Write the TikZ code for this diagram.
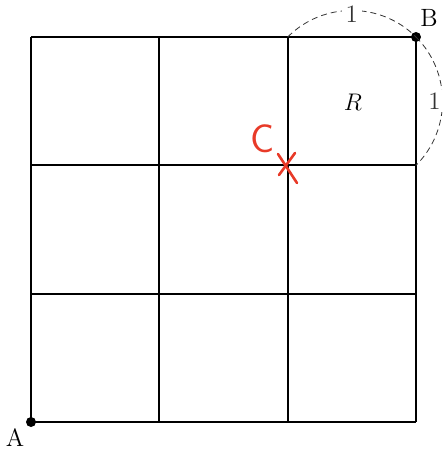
\documentclass[tikz,border=0pt]{standalone}
\definecolor{penred}{RGB}{232,58,40}
\tikzset{
  grid/.style={line width=1pt,black},
  arcl/.style={densely dashed,line width=0.4pt,black!80},
  dot/.style={circle,fill=black,inner sep=0pt,minimum size=5pt},
  lab/.style={font=\fontsize{12.5}{15}\selectfont,inner sep=1pt},
  redline/.style={draw=penred,line width=1.3pt,line cap=round},
}
\begin{document}
\begin{tikzpicture}[x=0.5pt,y=-0.5pt]
\useasboundingbox (0,0) rectangle (445,451);
% grid coordinates
\foreach \i/\x in {0/31,1/159.33,2/287.67,3/416}{
  \foreach \j/\y in {0/422,1/293.67,2/165.33,3/37}{
    \coordinate (p\i\j) at (\x,\y);
  }
}
\foreach \i in {0,1,2,3}{
  \draw[grid] (p\i0) -- (p\i3);
  \draw[grid] (p0\i) -- (p3\i);
}
\node[dot] (A) at (p00) {};
\node[dot] (B) at (p33) {};
\node[lab] (Alab) at (15,438) {A};
\node[lab] (Blab) at (429,18) {B};
\node[lab] (R) at (353,102) {$R$};
\draw[arcl] (p23) to[bend left=45] node[lab,fill=white,inner sep=2pt,yshift=-2pt] (one1) {1} (p33);
\draw[arcl] (p33) to[bend left=45] node[lab,fill=white,inner sep=1.5pt,xshift=-4pt] (one2) {1} (p32);
% red mark
\node[text=penred,font=\sffamily\fontsize{20}{24}\selectfont,inner sep=0pt] (C) at (263,139) {C};
\coordinate (x1) at (278,154);
\coordinate (x2) at (297,183);
\coordinate (x3) at (295,153);
\coordinate (x4) at (279,175);
\draw[redline] (x1) -- (x2);
\draw[redline] (x3) -- (x4);
\end{tikzpicture}
\end{document}
